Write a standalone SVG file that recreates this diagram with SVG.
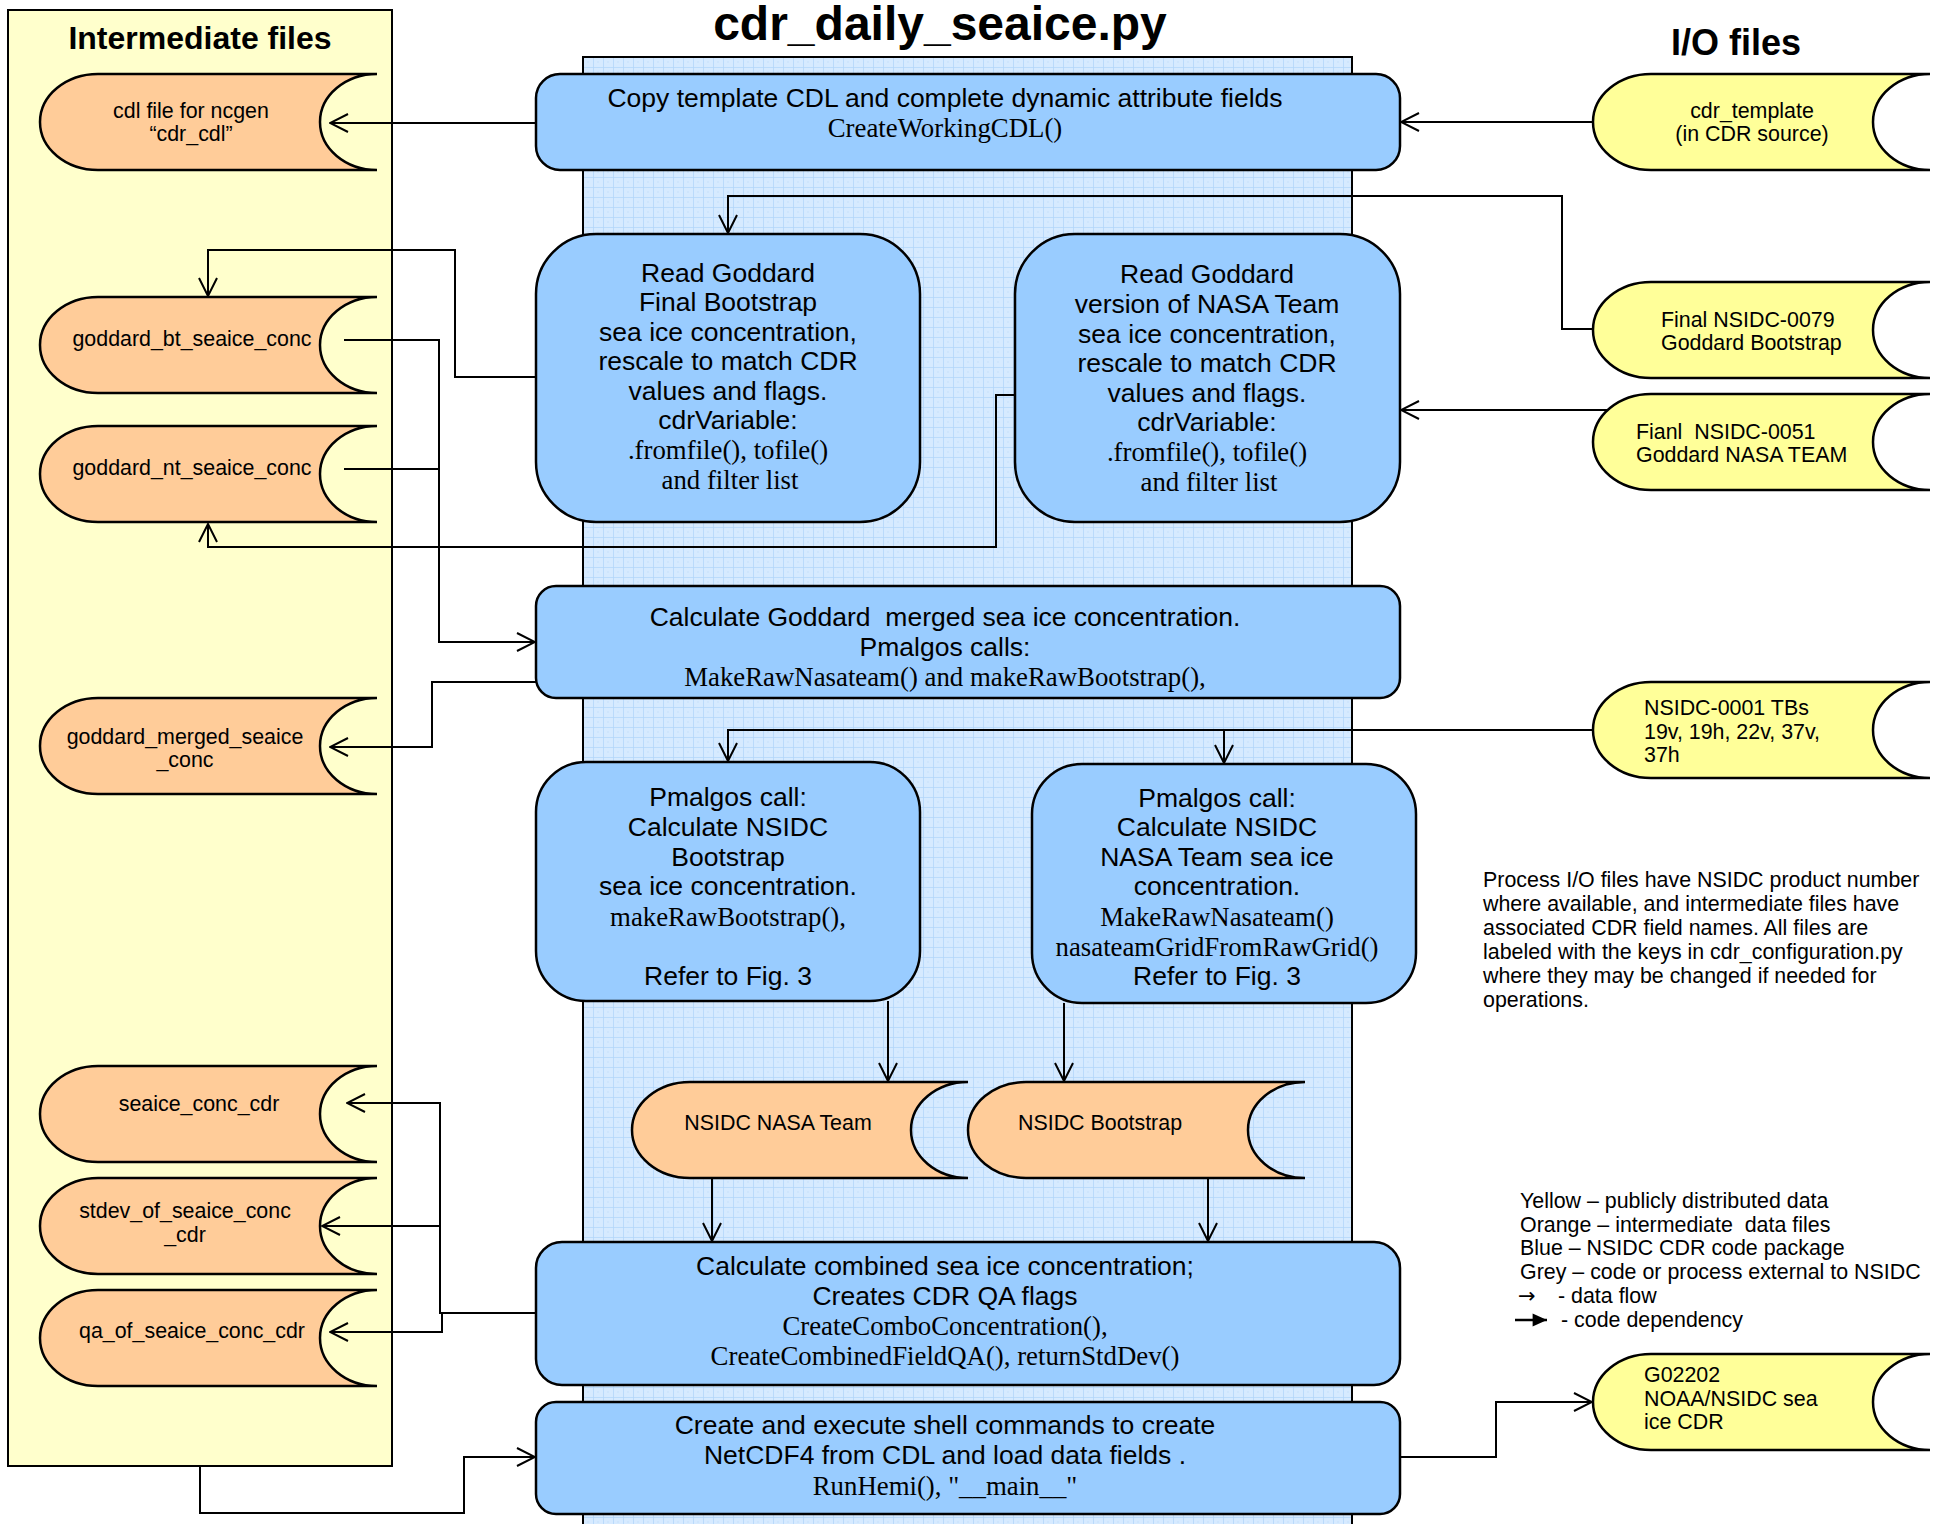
<svg xmlns="http://www.w3.org/2000/svg" width="1937" height="1524" viewBox="0 0 1937 1524">
<defs>
<pattern id="grid" x="583" y="57" width="10" height="10" patternUnits="userSpaceOnUse">
<rect width="10" height="10" fill="#d6eaff"/>
<path d="M0,0 H10 M0,0 V10" stroke="#b3d6fa" stroke-width="1.6" fill="none"/>
<rect x="4.5" y="4.5" width="1" height="1" fill="#b8d8f8"/>
</pattern>
<marker id="arr" viewBox="0 0 20 20" refX="19" refY="10" markerWidth="20" markerHeight="20" markerUnits="userSpaceOnUse" orient="auto">
<path d="M1,1 L19,10 L1,19" fill="none" stroke="#000" stroke-width="2"/>
</marker>
<marker id="farr" viewBox="0 0 20 20" refX="19" refY="10" markerWidth="16" markerHeight="16" markerUnits="userSpaceOnUse" orient="auto">
<path d="M1,2 L19,10 L1,18 Z" fill="#000"/>
</marker>
<style>
.box{fill:#99ccff;stroke:#000;stroke-width:2.5}
.org{fill:#ffcc99;stroke:#000;stroke-width:2.5}
.yel{fill:#ffff99;stroke:#000;stroke-width:2.5}
.s{font-family:"Liberation Sans",Arial,sans-serif;fill:#000}
.t{font-family:"Liberation Serif","Times New Roman",serif;fill:#000}
.s.b26{font-size:26.5px}
.t.b26{font-size:26.8px}
.f21{font-size:21.4px}
.mid{text-anchor:middle}
.c{fill:none;stroke:#000;stroke-width:2}
</style>
</defs>
<rect width="1937" height="1524" fill="#fff"/>

<g id="backdrop">
<rect x="583" y="57" width="769" height="1480" fill="url(#grid)" stroke="#000" stroke-width="2"/>
</g>

<g id="title">
<text x="940" y="40" class="s mid" font-size="48" font-weight="bold">cdr_daily_seaice.py</text>
</g>

<g id="intermediate-panel">
<rect x="8" y="10" width="384" height="1456" fill="#ffffcc" stroke="#000" stroke-width="2"/>
<text x="200" y="49" class="s mid" font-size="32" font-weight="bold">Intermediate files</text>
</g>

<g id="io-title">
<text x="1736" y="55" class="s mid" font-size="36" font-weight="bold">I/O files</text>
</g>

<g id="cdr_cdl">
<path class="org" d="M98,74 L377,74 A57,48 0 0 0 377,170 L98,170 A58,48 0 0 1 98,74 Z"/>
<text class="s f21 mid" x="191" y="118">cdl file for ncgen</text>
<text class="s f21 mid" x="191" y="141">“cdr_cdl”</text>
</g>
<g id="goddard_bt_seaice_conc">
<path class="org" d="M98,297 L377,297 A57,48 0 0 0 377,393 L98,393 A58,48 0 0 1 98,297 Z"/>
<text class="s f21 mid" x="192" y="346">goddard_bt_seaice_conc</text>
</g>
<g id="goddard_nt_seaice_conc">
<path class="org" d="M98,426 L377,426 A57,48 0 0 0 377,522 L98,522 A58,48 0 0 1 98,426 Z"/>
<text class="s f21 mid" x="192" y="475">goddard_nt_seaice_conc</text>
</g>
<g id="goddard_merged_seaice_conc">
<path class="org" d="M98,698 L377,698 A57,48 0 0 0 377,794 L98,794 A58,48 0 0 1 98,698 Z"/>
<text class="s f21 mid" x="185" y="744">goddard_merged_seaice</text>
<text class="s f21 mid" x="185" y="767">_conc</text>
</g>
<g id="seaice_conc_cdr">
<path class="org" d="M98,1066 L377,1066 A57,48 0 0 0 377,1162 L98,1162 A58,48 0 0 1 98,1066 Z"/>
<text class="s f21 mid" x="199" y="1111">seaice_conc_cdr</text>
</g>
<g id="stdev_of_seaice_conc_cdr">
<path class="org" d="M98,1178 L377,1178 A57,48 0 0 0 377,1274 L98,1274 A58,48 0 0 1 98,1178 Z"/>
<text class="s f21 mid" x="185" y="1218">stdev_of_seaice_conc</text>
<text class="s f21 mid" x="185" y="1242">_cdr</text>
</g>
<g id="qa_of_seaice_conc_cdr">
<path class="org" d="M98,1290 L377,1290 A57,48 0 0 0 377,1386 L98,1386 A58,48 0 0 1 98,1290 Z"/>
<text class="s f21 mid" x="192" y="1338">qa_of_seaice_conc_cdr</text>
</g>

<g id="create-working-cdl">
<rect class="box" x="536" y="74" width="864" height="96" rx="24"/>
<text class="s b26 mid" x="945" y="107">Copy template CDL and complete dynamic attribute fields</text>
<text class="t b26 mid" x="945" y="137">CreateWorkingCDL()</text>
</g>
<g id="read-goddard-bootstrap">
<rect class="box" x="536" y="234" width="384" height="288" rx="60"/>
<text class="s b26 mid" x="728" y="282">Read Goddard</text>
<text class="s b26 mid" x="728" y="311">Final Bootstrap</text>
<text class="s b26 mid" x="728" y="341">sea ice concentration,</text>
<text class="s b26 mid" x="728" y="370">rescale to match CDR</text>
<text class="s b26 mid" x="728" y="400">values and flags.</text>
<text class="s b26 mid" x="728" y="429">cdrVariable:</text>
<text class="t b26 mid" x="728" y="459">.fromfile(), tofile()</text>
<text class="t b26 mid" x="730" y="489">and filter list</text>
</g>
<g id="read-goddard-nasateam">
<rect class="box" x="1015" y="234" width="385" height="288" rx="60"/>
<text class="s b26 mid" x="1207" y="283">Read Goddard</text>
<text class="s b26 mid" x="1207" y="313">version of NASA Team</text>
<text class="s b26 mid" x="1207" y="343">sea ice concentration,</text>
<text class="s b26 mid" x="1207" y="372">rescale to match CDR</text>
<text class="s b26 mid" x="1207" y="402">values and flags.</text>
<text class="s b26 mid" x="1207" y="431">cdrVariable:</text>
<text class="t b26 mid" x="1207" y="461">.fromfile(), tofile()</text>
<text class="t b26 mid" x="1209" y="491">and filter list</text>
</g>
<g id="calc-goddard-merged">
<rect class="box" x="536" y="586" width="864" height="112" rx="20"/>
<text class="s b26 mid" x="945" y="626" xml:space="preserve">Calculate Goddard  merged sea ice concentration.</text>
<text class="s b26 mid" x="945" y="656">Pmalgos calls:</text>
<text class="t b26 mid" x="945" y="686">MakeRawNasateam() and makeRawBootstrap(),</text>
</g>
<g id="pmalgos-bootstrap">
<rect class="box" x="536" y="762" width="384" height="239" rx="50"/>
<text class="s b26 mid" x="728" y="806">Pmalgos call:</text>
<text class="s b26 mid" x="728" y="836">Calculate NSIDC</text>
<text class="s b26 mid" x="728" y="866">Bootstrap</text>
<text class="s b26 mid" x="728" y="895">sea ice concentration.</text>
<text class="t b26 mid" x="728" y="926">makeRawBootstrap(),</text>
<text class="s b26 mid" x="728" y="985">Refer to Fig. 3</text>
</g>
<g id="pmalgos-nasateam">
<rect class="box" x="1032" y="764" width="384" height="239" rx="50"/>
<text class="s b26 mid" x="1217" y="807">Pmalgos call:</text>
<text class="s b26 mid" x="1217" y="836">Calculate NSIDC</text>
<text class="s b26 mid" x="1217" y="866">NASA Team sea ice</text>
<text class="s b26 mid" x="1217" y="895">concentration.</text>
<text class="t b26 mid" x="1217" y="926">MakeRawNasateam()</text>
<text class="t b26 mid" x="1217" y="956">nasateamGridFromRawGrid()</text>
<text class="s b26 mid" x="1217" y="985">Refer to Fig. 3</text>
</g>
<g id="nsidc-nasa-team">
<path class="org" d="M690,1082 L968,1082 A57,48 0 0 0 968,1178 L690,1178 A58,48 0 0 1 690,1082 Z"/>
<text class="s f21 mid" x="778" y="1130">NSIDC NASA Team</text>
</g>
<g id="nsidc-bootstrap">
<path class="org" d="M1026,1082 L1305,1082 A57,48 0 0 0 1305,1178 L1026,1178 A58,48 0 0 1 1026,1082 Z"/>
<text class="s f21 mid" x="1100" y="1130">NSIDC Bootstrap</text>
</g>
<g id="calc-combined">
<rect class="box" x="536" y="1242" width="864" height="143" rx="26"/>
<text class="s b26 mid" x="945" y="1275">Calculate combined sea ice concentration;</text>
<text class="s b26 mid" x="945" y="1305">Creates CDR QA flags</text>
<text class="t b26 mid" x="945" y="1335">CreateComboConcentration(),</text>
<text class="t b26 mid" x="945" y="1365">CreateCombinedFieldQA(), returnStdDev()</text>
</g>
<g id="shell-commands">
<rect class="box" x="536" y="1402" width="864" height="112" rx="20"/>
<text class="s b26 mid" x="945" y="1434">Create and execute shell commands to create</text>
<text class="s b26 mid" x="945" y="1464">NetCDF4 from CDL and load data fields .</text>
<text class="t b26 mid" x="945" y="1495">RunHemi(), "__main__"</text>
</g>

<g id="cdr_template">
<path class="yel" d="M1651,74 L1930,74 A57,48 0 0 0 1930,170 L1651,170 A58,48 0 0 1 1651,74 Z"/>
<text class="s f21 mid" x="1752" y="118">cdr_template</text>
<text class="s f21 mid" x="1752" y="141">(in CDR source)</text>
</g>
<g id="nsidc-0079">
<path class="yel" d="M1651,282 L1930,282 A57,48 0 0 0 1930,378 L1651,378 A58,48 0 0 1 1651,282 Z"/>
<text class="s f21" x="1661" y="327">Final NSIDC-0079</text>
<text class="s f21" x="1661" y="350">Goddard Bootstrap</text>
</g>
<g id="nsidc-0051">
<path class="yel" d="M1651,394 L1930,394 A57,48 0 0 0 1930,490 L1651,490 A58,48 0 0 1 1651,394 Z"/>
<text class="s f21" x="1636" y="439" xml:space="preserve">Fianl  NSIDC-0051</text>
<text class="s f21" x="1636" y="462">Goddard NASA TEAM</text>
</g>
<g id="nsidc-0001">
<path class="yel" d="M1651,682 L1930,682 A57,48 0 0 0 1930,778 L1651,778 A58,48 0 0 1 1651,682 Z"/>
<text class="s f21" x="1644" y="715">NSIDC-0001 TBs</text>
<text class="s f21" x="1644" y="739">19v, 19h, 22v, 37v,</text>
<text class="s f21" x="1644" y="762">37h</text>
</g>
<g id="g02202">
<path class="yel" d="M1651,1354 L1930,1354 A57,48 0 0 0 1930,1450 L1651,1450 A58,48 0 0 1 1651,1354 Z"/>
<text class="s f21" x="1644" y="1382">G02202</text>
<text class="s f21" x="1644" y="1406">NOAA/NSIDC sea</text>
<text class="s f21" x="1644" y="1429">ice CDR</text>
</g>

<g id="note">
<text class="s f21" x="1483" y="887">Process I/O files have NSIDC product number</text>
<text class="s f21" x="1483" y="911">where available, and intermediate files have</text>
<text class="s f21" x="1483" y="935">associated CDR field names. All files are</text>
<text class="s f21" x="1483" y="959">labeled with the keys in cdr_configuration.py</text>
<text class="s f21" x="1483" y="983">where they may be changed if needed for</text>
<text class="s f21" x="1483" y="1007">operations.</text>
</g>

<g id="legend">
<text class="s f21" x="1520" y="1208">Yellow – publicly distributed data</text>
<text class="s f21" x="1520" y="1232" xml:space="preserve">Orange – intermediate  data files</text>
<text class="s f21" x="1520" y="1255">Blue – NSIDC CDR code package</text>
<text class="s f21" x="1520" y="1279">Grey – code or process external to NSIDC</text>
<text x="1518" y="1303" font-family="'DejaVu Sans',sans-serif" font-size="21" fill="#000">→</text>
<text class="s f21" x="1558" y="1303">- data flow</text>
<line x1="1515" y1="1320" x2="1547" y2="1320" stroke="#000" stroke-width="2.5" marker-end="url(#farr)"/>
<text class="s f21" x="1561" y="1327">- code dependency</text>
</g>

<g id="connectors">
<path class="c" marker-end="url(#arr)" d="M536,123 L330,123"/>
<path class="c" marker-end="url(#arr)" d="M1593,122 L1401,122"/>
<path class="c" marker-end="url(#arr)" d="M1593,329 L1562,329 L1562,196 L728,196 L728,233"/>
<path class="c" marker-end="url(#arr)" d="M1608,410 L1401,410"/>
<path class="c" marker-end="url(#arr)" d="M536,377 L455,377 L455,250 L208,250 L208,296"/>
<path class="c" marker-end="url(#arr)" d="M1015,395 L996,395 L996,547 L208,547 L208,524"/>
<path class="c" marker-end="url(#arr)" d="M344,340 L439,340 L439,642 L535,642"/>
<path class="c" d="M344,469 L439,469"/>
<path class="c" marker-end="url(#arr)" d="M536,682 L432,682 L432,747 L330,747"/>
<path class="c" marker-end="url(#arr)" d="M1593,730 L728,730 L728,761"/>
<path class="c" marker-end="url(#arr)" d="M1224,730 L1224,763"/>
<path class="c" marker-end="url(#arr)" d="M888,1001 L888,1081"/>
<path class="c" marker-end="url(#arr)" d="M1064,1003 L1064,1081"/>
<path class="c" marker-end="url(#arr)" d="M712,1178 L712,1241"/>
<path class="c" marker-end="url(#arr)" d="M1208,1178 L1208,1241"/>
<path class="c" marker-end="url(#arr)" d="M536,1313 L440,1313 L440,1103 L347,1103"/>
<path class="c" marker-end="url(#arr)" d="M440,1226 L322,1226"/>
<path class="c" marker-end="url(#arr)" d="M440,1313 L442,1313 L442,1332 L330,1332"/>
<path class="c" marker-end="url(#arr)" d="M200,1466 L200,1513 L464,1513 L464,1457 L535,1457"/>
<path class="c" marker-end="url(#arr)" d="M1400,1457 L1496,1457 L1496,1402 L1592,1402"/>
</g>
</svg>
